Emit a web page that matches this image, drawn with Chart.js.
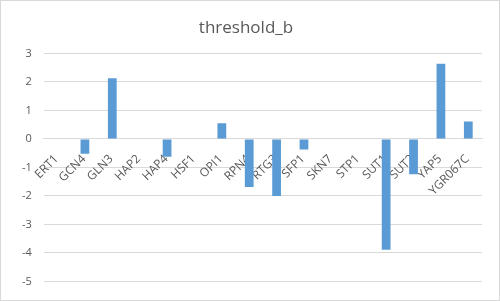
<!DOCTYPE html>
<html>
<head>
<meta charset="utf-8">
<script src="https://cdn.jsdelivr.net/npm/chart.js@4"></script>
<style>
  body { margin: 0; background: #fff; }
  #wrap { width: 500px; height: 301px; box-sizing: border-box; border: 1px solid #d9d9d9; }
</style>
</head>
<body>
<div id="wrap"><canvas id="myChart"></canvas></div>
<script>
const genes = ['ERT1', 'GCN4', 'GLN3', 'HAP2', 'HAP4', 'HSF1', 'OPI1', 'RPN4', 'RTG3', 'SFP1', 'SKN7', 'STP1', 'SUT1', 'SUT2', 'YAP5', 'YGR067C'];
const thresholdB = [0, -0.52, 2.13, 0, -0.63, 0, 0.55, -1.69, -2.0, -0.37, 0, 0, -3.89, -1.24, 2.64, 0.61];
const yTicks = [3, 2, 1, 0, -1, -2, -3, -4, -5];

const textColor = '#595959';
const gridColor = '#d9d9d9';

const ctx = document.getElementById('myChart').getContext('2d');
const myChart = new Chart(ctx, {
    type: 'bar',
    data: {
        labels: genes,
        datasets: [{
            label: 'threshold_b',
            data: thresholdB,
            backgroundColor: '#5b9bd5',
            categoryPercentage: 1,
            barPercentage: 0.32
        }]
    },
    options: {
        responsive: true,
        maintainAspectRatio: false,
        animation: false,
        layout: {
            padding: { left: 9, right: 17, top: 17, bottom: 6 }
        },
        plugins: {
            legend: { display: false },
            tooltip: { enabled: false },
            title: {
                display: true,
                text: 'threshold_b',
                color: textColor,
                font: { family: 'Open Sans', size: 17, weight: 'normal' },
                padding: { top: 0, bottom: 15 }
            }
        },
        scales: {
            x: {
                position: { y: 0 },
                grid: { display: false },
                border: { color: gridColor },
                ticks: {
                    color: textColor,
                    font: { family: 'Open Sans', size: 12 },
                    minRotation: 45,
                    maxRotation: 45,
                    autoSkip: false,
                    padding: 5,
                    labelOffset: -1
                }
            },
            y: {
                min: Math.min(...yTicks),
                max: Math.max(...yTicks),
                afterBuildTicks: function (axis) {
                    axis.ticks = yTicks.map(function (v) { return { value: v }; });
                },
                grid: { color: gridColor, drawTicks: false },
                border: { display: false },
                ticks: {
                    color: textColor,
                    font: { family: 'Open Sans', size: 11 },
                    padding: 12
                }
            }
        }
    }
});
</script>
</body>
</html>
